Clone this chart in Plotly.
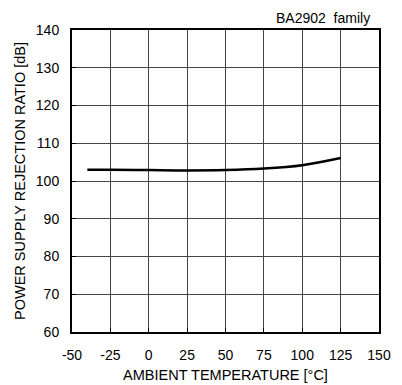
import plotly.graph_objects as go

temps = [-40, -25, 0, 25, 50, 75, 100, 125]
psrr = [103.0, 103.0, 102.9, 102.8, 102.9, 103.3, 104.2, 106.1]
x_ticks = [-50, -25, 0, 25, 50, 75, 100, 125, 150]
y_ticks = [60, 70, 80, 90, 100, 110, 120, 130, 140]

font = "Liberation Sans, Arial, sans-serif"

# the page body has an 8px default margin; compensate so plot lands at reference pixels
fig = go.Figure()
fig.add_trace(go.Scatter(x=temps, y=psrr, mode="lines", line=dict(color="black", width=2.5, shape="spline"),
                         showlegend=False))

fig.update_layout(
    width=394, height=377,
    margin=dict(l=64, r=23, t=22, b=53),
    paper_bgcolor="white", plot_bgcolor="white",
    font=dict(family=font, size=14, color="black"),
    annotations=[dict(text="BA2902\u00a0\u00a0family", xref="paper", yref="paper", x=0.977, y=1.04,
                      xanchor="right", yanchor="middle", showarrow=False,
                      font=dict(family=font, size=14, color="black"))],
)
fig.update_xaxes(range=[-50, 150], tickvals=x_ticks, ticktext=[str(v) for v in x_ticks],
                 automargin=False,
                 showgrid=True, gridcolor="#444444", gridwidth=1,
                 showline=True, linecolor="black", linewidth=2, mirror=True,
                 ticks="inside", ticklen=4, tickcolor="black",
                 ticklabelstandoff=9, zeroline=False,
                 title=dict(text="AMBIENT TEMPERATURE [\u00b0C]", font=dict(size=14.5), standoff=8))
fig.update_yaxes(range=[60, 140], tickvals=y_ticks, ticktext=[str(v) for v in y_ticks],
                 automargin=False,
                 showgrid=True, gridcolor="#444444", gridwidth=1,
                 showline=True, linecolor="black", linewidth=2, mirror=True,
                 ticks="inside", ticklen=4, tickcolor="black",
                 ticklabelstandoff=8, zeroline=False,
                 title=dict(text="POWER SUPPLY REJECTION RATIO [dB]", font=dict(size=14.5), standoff=7))

fig.write_html("out.html")
